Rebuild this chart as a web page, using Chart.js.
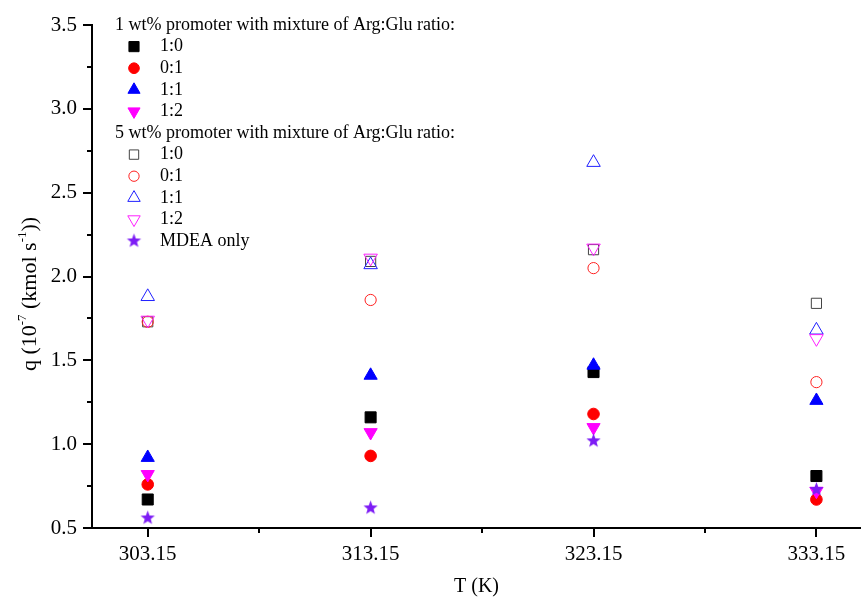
<!DOCTYPE html>
<html>
<head>
<meta charset="utf-8">
<script src="https://cdn.jsdelivr.net/npm/chart.js@4"></script>
<style>
  html, body { margin: 0; padding: 0; background: #fff; }
  #wrap { width: 861px; height: 599px; }
</style>
</head>
<body>
<div id="wrap"><canvas id="qChart" width="861" height="599"></canvas></div>
<script>
// temperatures (K)
var temps = [303.15, 313.15, 323.15, 333.15];
var xTicks = [303.15, 308.15, 313.15, 318.15, 323.15, 328.15, 333.15];

// q (10^-7 kmol/s), 1 wt% promoter
var w1_10 = [0.67, 1.16, 1.43, 0.81];
var w1_01 = [0.76, 0.93, 1.18, 0.67];
var w1_11 = [0.92, 1.41, 1.47, 1.26];
var w1_12 = [0.82, 1.07, 1.10, 0.72];
// 5 wt% promoter
var w5_10 = [1.73, 2.09, 2.16, 1.84];
var w5_01 = [1.73, 1.86, 2.05, 1.37];
var w5_11 = [1.88, 2.07, 2.68, 1.68];
var w5_12 = [1.74, 2.11, 2.17, 1.63];
var mdea = [0.56, 0.62, 1.02, 0.73];

var serif = "'Liberation Serif', 'Times New Roman', serif";

// filled 5 point star for MDEA
function makeStar(r, color) {
    var c = document.createElement('canvas');
    c.width = c.height = r * 2 + 2;
    var g = c.getContext('2d');
    var cx = r + 1, cy = r + 1;
    g.beginPath();
    for (var i = 0; i < 10; i++) {
        var rr = i % 2 === 0 ? r : r * 0.42;
        var a = -Math.PI / 2 + i * Math.PI / 5;
        g.lineTo(cx + rr * Math.cos(a), cy + rr * Math.sin(a));
    }
    g.closePath();
    g.fillStyle = color;
    g.fill();
    return c;
}
var starImg = makeStar(7.5, '#7d1cf5');

function pts(arr) {
    return arr.map(function(v, i) { return { x: temps[i], y: v }; });
}

var series = [
    { label: '1:0', data: w1_10, style: 'rect', r: 7.8, rot: 0, fill: '#000000', stroke: '#000000', bw: 1 },
    { label: '0:1', data: w1_01, style: 'circle', r: 5.8, rot: 0, fill: '#ff0000', stroke: '#ff0000', bw: 1 },
    { label: '1:1', data: w1_11, style: 'triangle', r: 7.6, rot: 0, fill: '#0000ff', stroke: '#0000ff', bw: 1 },
    { label: '1:2', data: w1_12, style: 'triangle', r: 7.6, rot: 180, fill: '#ff00ff', stroke: '#ff00ff', bw: 1 },
    { label: '1:0', data: w5_10, style: 'rect', r: 7.2, rot: 0, fill: 'rgba(0,0,0,0)', stroke: '#444444', bw: 1 },
    { label: '0:1', data: w5_01, style: 'circle', r: 5.6, rot: 0, fill: 'rgba(0,0,0,0)', stroke: '#ff2020', bw: 1 },
    { label: '1:1', data: w5_11, style: 'triangle', r: 7.8, rot: 0, fill: 'rgba(0,0,0,0)', stroke: '#2020ff', bw: 1 },
    { label: '1:2', data: w5_12, style: 'triangle', r: 7.8, rot: 180, fill: 'rgba(0,0,0,0)', stroke: '#ff20ff', bw: 1 },
    { label: 'MDEA only', data: mdea, style: starImg, r: 7.5, rot: 0, fill: '#7d1cf5', stroke: '#7d1cf5', bw: 1 }
];

var datasets = series.map(function(s, i) {
    return {
        label: s.label,
        data: pts(s.data),
        pointStyle: s.style,
        pointRadius: s.r,
        pointHoverRadius: s.r,
        pointRotation: s.rot,
        backgroundColor: s.fill,
        borderColor: s.stroke,
        borderWidth: s.bw,
        showLine: false,
        order: 20 - i
    };
});

// legend, drawn inside the plot area like the original
var legendPlugin = {
    id: 'sideLegend',
    afterDraw: function(chart) {
        var ctx = chart.ctx;
        ctx.save();
        ctx.font = '18px ' + serif;
        ctx.fillStyle = '#000';
        ctx.textBaseline = 'middle';
        var rowH = 21.6, y0 = 25;
        var rows = [
            { head: '1 wt% promoter with mixture of Arg:Glu ratio:' },
            { s: 0 }, { s: 1 }, { s: 2 }, { s: 3 },
            { head: '5 wt% promoter with mixture of Arg:Glu ratio:' },
            { s: 4 }, { s: 5 }, { s: 6 }, { s: 7 }, { s: 8 }
        ];
        rows.forEach(function(row, i) {
            var y = y0 + i * rowH;
            if (row.head) {
                ctx.fillText(row.head, 115, y);
                return;
            }
            var s = series[row.s];
            ctx.fillStyle = s.fill;
            ctx.strokeStyle = s.stroke;
            ctx.lineWidth = s.bw;
            Chart.helpers.drawPoint(ctx, { pointStyle: s.style, radius: s.r * 0.92, rotation: s.rot, borderWidth: s.bw }, 134, y);
            ctx.fillStyle = '#000';
            ctx.fillText(s.label, 160, y);
        });
        ctx.restore();
    }
};

// axis ticks (long major, short minor) and y title with superscripts
var axisPlugin = {
    id: 'axisDeco',
    afterDraw: function(chart) {
        var ctx = chart.ctx;
        var xs = chart.scales.x, ys = chart.scales.y;
        var area = chart.chartArea;
        ctx.save();
        ctx.strokeStyle = '#000';
        ctx.lineWidth = 2;
        xs.ticks.forEach(function(t, i) {
            var px = Math.round(xs.getPixelForValue(t.value));
            var len = i % 2 === 0 ? 9 : 5;
            ctx.beginPath();
            ctx.moveTo(px, area.bottom);
            ctx.lineTo(px, area.bottom + len);
            ctx.stroke();
        });
        ys.ticks.forEach(function(t) {
            var py = Math.round(ys.getPixelForValue(t.value));
            var major = Math.abs(t.value * 2 - Math.round(t.value * 2)) < 1e-6;
            var len = major ? 9 : 5;
            ctx.beginPath();
            ctx.moveTo(area.left, py);
            ctx.lineTo(area.left - len, py);
            ctx.stroke();
        });

        // y title
        var parts = [
            { t: 'q (10', sup: false },
            { t: '-7', sup: true },
            { t: ' (kmol s', sup: false },
            { t: '-1', sup: true },
            { t: '))', sup: false }
        ];
        var big = '22px ' + serif, small = '13px ' + serif;
        var total = 0;
        parts.forEach(function(p) {
            ctx.font = p.sup ? small : big;
            p.w = ctx.measureText(p.t).width;
            total += p.w;
        });
        ctx.translate(36, 294);
        ctx.rotate(-Math.PI / 2);
        ctx.fillStyle = '#000';
        ctx.textBaseline = 'alphabetic';
        var x = -total / 2;
        parts.forEach(function(p) {
            ctx.font = p.sup ? small : big;
            ctx.fillText(p.t, x, p.sup ? -10 : 0);
            x += p.w;
        });
        ctx.restore();
    }
};

var chart = new Chart(document.getElementById('qChart').getContext('2d'), {
    type: 'scatter',
    data: { datasets: datasets },
    options: {
        responsive: false,
        animation: false,
        layout: { autoPadding: false, padding: { top: 25, right: 0, bottom: 0, left: 0 } },
        plugins: {
            legend: { display: false },
            tooltip: { enabled: false }
        },
        scales: {
            x: {
                type: 'linear',
                min: 300.65,
                max: 335.15,
                afterBuildTicks: function(scale) {
                    scale.ticks = xTicks.map(function(v) { return { value: v }; });
                },
                afterFit: function(scale) {
                    scale.height = 71;
                    scale.paddingLeft = 0;
                    scale.paddingRight = 0;
                },
                grid: { display: false, drawTicks: false },
                border: { display: true, color: '#000', width: 2 },
                ticks: {
                    color: '#000',
                    padding: 14,
                    maxRotation: 0,
                    autoSkip: false,
                    font: { family: serif, size: 21 },
                    callback: function(v, i) {
                        return temps.indexOf(xTicks[i]) >= 0 ? xTicks[i].toFixed(2) : '';
                    }
                },
                title: {
                    display: true,
                    text: 'T (K)',
                    color: '#000',
                    font: { family: serif, size: 20 },
                    padding: { top: 4, bottom: 0 }
                }
            },
            y: {
                min: 0.5,
                max: 3.5,
                afterFit: function(scale) {
                    scale.width = 92;
                    scale.paddingTop = 0;
                    scale.paddingBottom = 0;
                },
                grid: { display: false, drawTicks: false },
                border: { display: true, color: '#000', width: 2 },
                ticks: {
                    stepSize: 0.25,
                    color: '#000',
                    padding: 15,
                    font: { family: serif, size: 21 },
                    callback: function(v) {
                        return Math.abs(v * 2 - Math.round(v * 2)) < 1e-6 ? v.toFixed(1) : '';
                    }
                }
            }
        }
    },
    plugins: [legendPlugin, axisPlugin]
});
</script>
</body>
</html>
